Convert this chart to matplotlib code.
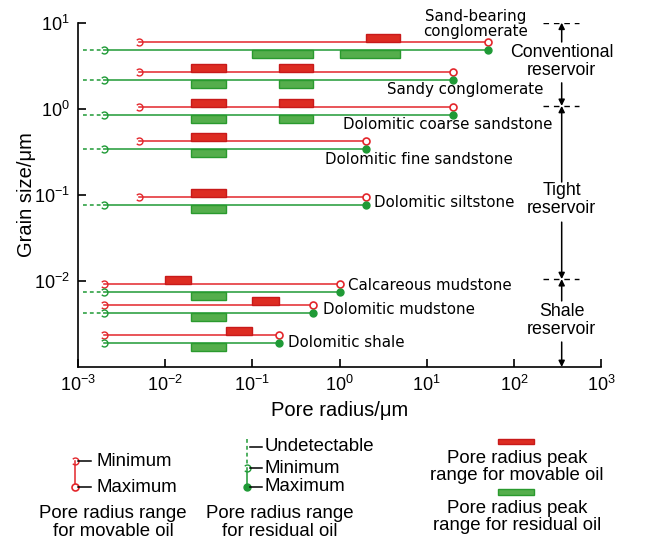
import matplotlib
matplotlib.use("Agg")
import matplotlib.pyplot as plt
from matplotlib.patches import Rectangle
from matplotlib.path import Path
import numpy as np

plt.rcParams['font.family'] = ['Liberation Sans', 'DejaVu Sans']
plt.rcParams['mathtext.fontset'] = 'custom'
plt.rcParams['mathtext.rm'] = 'Liberation Sans'
plt.rcParams['mathtext.it'] = 'Liberation Sans:italic'
plt.rcParams['mathtext.bf'] = 'Liberation Sans:bold'

# ---------------- dados ----------------
rocks = ["Sand-bearing\nconglomerate", "Sandy conglomerate", "Dolomitic coarse sandstone",
         "Dolomitic fine sandstone", "Dolomitic siltstone", "Calcareous mudstone",
         "Dolomitic mudstone", "Dolomitic shale"]
grain_size = [5.3, 2.4, 0.95, 0.38, 0.085, 0.0083, 0.0047, 0.0021]
movable_min = [0.005, 0.005, 0.005, 0.005, 0.005, 0.002, 0.002, 0.002]
movable_max = [50, 20, 20, 2, 2, 1, 0.5, 0.2]
residual_min = [0.002, 0.002, 0.002, 0.002, 0.002, 0.002, 0.002, 0.002]
residual_max = [50, 20, 20, 2, 2, 1, 0.5, 0.2]
has_undetectable = [True, True, True, True, True, True, True, False]
undetectable_from = 0.00115
movable_peaks = [[(2, 5)], [(0.02, 0.05), (0.2, 0.5)], [(0.02, 0.05), (0.2, 0.5)],
                 [(0.02, 0.05)], [(0.02, 0.05)], [(0.01, 0.02)], [(0.1, 0.2)], [(0.05, 0.1)]]
residual_peaks = [[(0.1, 0.5), (1, 5)], [(0.02, 0.05), (0.2, 0.5)], [(0.02, 0.05), (0.2, 0.5)],
                  [(0.02, 0.05)], [(0.02, 0.05)], [(0.02, 0.05)], [(0.02, 0.05)], [(0.02, 0.05)]]

reservoirs = ["Conventional\nreservoir", "Tight\nreservoir", "Shale\nreservoir"]
reservoir_bounds = [10, 1.08, 0.0105, 0.001]

# ---------------- estilos ----------------
RED = '#e3262b'
GREEN = '#1f9a36'
RED_FILL = '#dd2c22'
RED_EDGE = '#c81a1a'
GREEN_FILL = '#55ae4c'
GREEN_EDGE = '#2a9a2e'
LW = 1.1
OFF = 0.0465      # meio espaçamento entre linhas (décadas)
BOX_H = 0.093     # altura das caixas (décadas)

# marcador do mínimo: arco aberto à esquerda (parece um "3")
min_marker = Path.arc(-140, 140)

label_pos = [(36.8, 9.7, 'center'), (3.53, 1.68, 'left'), (1.10, 0.653, 'left'),
             (0.68, 0.259, 'left'), (2.49, 0.082, 'left'), (1.24, 0.00875, 'left'),
             (0.65, 0.0046, 'left'), (0.258, 0.00194, 'left')]

fig = plt.figure(figsize=(6.5, 5.54), dpi=100)
ax = fig.add_axes([78/650, 1-367/554, 523/650, (367-22.7)/554])
ax.set_xscale('log')
ax.set_yscale('log')
ax.set_xlim(1e-3, 1e3)
ax.set_ylim(1e-3, 1e1)

for i, rock in enumerate(rocks):
    yr = grain_size[i] * 10**OFF
    yg = grain_size[i] / 10**OFF

    # faixa do óleo móvel
    ax.plot([movable_min[i], movable_max[i]], [yr, yr], color=RED, lw=LW, zorder=3)
    ax.plot(movable_min[i], yr, marker=min_marker, ms=5, mfc='none', mec=RED, mew=1.0, zorder=4)
    ax.plot(movable_max[i], yr, marker='o', ms=5, mfc='white', mec=RED, mew=1.2, zorder=4)

    # faixa do óleo residual
    if has_undetectable[i]:
        ax.plot([undetectable_from, residual_min[i]], [yg, yg], color=GREEN, lw=LW,
                ls=(0, (2.5, 2)), zorder=3)
    ax.plot([residual_min[i], residual_max[i]], [yg, yg], color=GREEN, lw=LW, zorder=3)
    ax.plot(residual_min[i], yg, marker=min_marker, ms=5, mfc='none', mec=GREEN, mew=1.0, zorder=4)
    ax.plot(residual_max[i], yg, marker='o', ms=5, color=GREEN, zorder=4)

    for x0, x1 in movable_peaks[i]:
        ax.add_patch(Rectangle((x0, yr), x1-x0, yr*(10**BOX_H-1), facecolor=RED_FILL,
                               edgecolor=RED_EDGE, lw=1, zorder=5))
    for x0, x1 in residual_peaks[i]:
        ax.add_patch(Rectangle((x0, yg/10**BOX_H), x1-x0, yg-yg/10**BOX_H, facecolor=GREEN_FILL,
                               edgecolor=GREEN_EDGE, lw=1, zorder=5))

    lx, ly, ha = label_pos[i]
    ax.text(lx, ly, rock, ha=ha, va='center', fontsize=10.8, family='DejaVu Sans',
            linespacing=1.05, zorder=6)

# classes de reservatório à direita
xa = 354
for b in reservoir_bounds[:3]:
    ax.plot([216, 560], [b, b], color='black', lw=1, ls=(0, (4, 3.5)), zorder=3)
text_y = [3.5, 0.0873, 0.00343]
arrows = [(5.97, 10), (2.0, 1.08), (0.141, 1.08), (0.0482, 0.0105), (0.00586, 0.0105), (0.00195, 0.001)]
for tail, tip in arrows:
    ax.annotate('', xy=(xa, tip), xytext=(xa, tail),
                arrowprops=dict(arrowstyle='-|>', color='black', lw=1.1, mutation_scale=9,
                                shrinkA=0, shrinkB=0), annotation_clip=False)
for name, ty in zip(reservoirs, text_y):
    ax.text(xa, ty, name, ha='center', va='center', fontsize=12.8, linespacing=1.08)

# eixos
for s in ['top', 'right']:
    ax.spines[s].set_visible(False)
ax.spines['left'].set_linewidth(1.2)
ax.spines['bottom'].set_linewidth(1.2)
ax.tick_params(which='major', direction='in', length=5.5, width=1.2, labelsize=13, pad=6)
ax.tick_params(which='minor', length=0)
ax.set_xticks([1e-3, 1e-2, 1e-1, 1e0, 1e1, 1e2, 1e3])
ax.set_yticks([1e-2, 1e-1, 1e0, 1e1])
ax.set_xlabel('Pore radius/μm', fontsize=14.5, va='center')
ax.xaxis.set_label_coords(0.5, (367-411)/344.3)
ax.set_ylabel('Grain size/μm', fontsize=14.5, va='center')
ax.yaxis.set_label_coords((26-78)/523, 0.5)

# ---------------- legenda (coordenadas em pixels) ----------------
lg = fig.add_axes([0, 0, 1, 1])
lg.set_xlim(0, 650)
lg.set_ylim(554, 0)
lg.axis('off')
FS = 13.4

# grupo 1
lg.plot([75.3, 75.3], [461, 487.3], color=RED, lw=LW)
lg.plot(75.3, 461, marker=min_marker, ms=5, mfc='none', mec=RED, mew=1.0)
lg.plot(75.3, 487.3, marker='o', ms=5, mfc='white', mec=RED, mew=1.2)
for yy, t in [(461, 'Minimum'), (487.3, 'Maximum')]:
    lg.plot([78, 90.5], [yy, yy], color='black', lw=1.1)
    lg.text(96, yy, t, ha='left', va='center', fontsize=FS)
lg.text(113, 522.5, 'Pore radius range\nfor movable oil', ha='center', va='center',
        fontsize=FS, linespacing=1.03)

# grupo 2
lg.plot([247, 247], [439, 465], color=GREEN, lw=LW, ls=(0, (2.5, 2)))
lg.plot([247, 247], [468.3, 486.7], color=GREEN, lw=LW)
lg.plot(247, 468.3, marker=min_marker, ms=5, mfc='none', mec=GREEN, mew=1.0)
lg.plot(247, 486.7, marker='o', ms=5, color=GREEN)
for yy, t in [(446.7, 'Undetectable'), (468.3, 'Minimum'), (486.7, 'Maximum')]:
    lg.plot([249.5, 262], [yy, yy], color='black', lw=1.1)
    lg.text(264.5, yy, t, ha='left', va='center', fontsize=FS)
lg.text(280, 522.5, 'Pore radius range\nfor residual oil', ha='center', va='center',
        fontsize=FS, linespacing=1.03)

# grupo 3
lg.add_patch(Rectangle((498.3, 439), 36, 5.3, facecolor=RED_FILL, edgecolor=RED_EDGE, lw=1))
lg.text(516.7, 466.8, 'Pore radius peak\nrange for movable oil', ha='center', va='center',
        fontsize=FS, linespacing=1.03)
lg.add_patch(Rectangle((498.3, 489.3), 36, 6, facecolor=GREEN_FILL, edgecolor=GREEN_EDGE, lw=1))
lg.text(516.7, 516.7, 'Pore radius peak\nrange for residual oil', ha='center', va='center',
        fontsize=FS, linespacing=1.03)

fig.savefig('out.png', dpi=100)
